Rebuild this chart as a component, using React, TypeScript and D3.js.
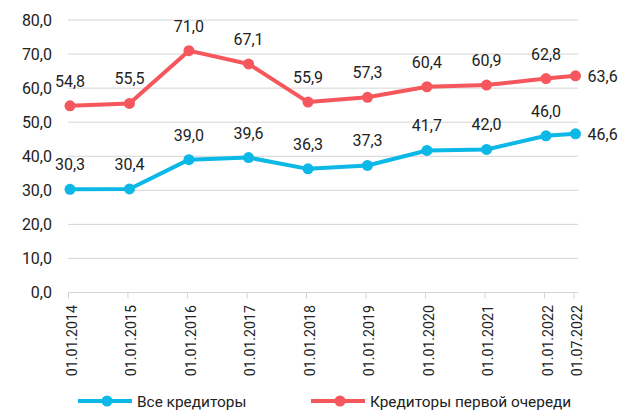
import React from 'react';
import * as d3 from 'd3';

const dates = ['01.01.2014', '01.01.2015', '01.01.2016', '01.01.2017', '01.01.2018', '01.01.2019', '01.01.2020', '01.01.2021', '01.01.2022', '01.07.2022'];
const allCreditors = [30.3, 30.4, 39.0, 39.6, 36.3, 37.3, 41.7, 42.0, 46.0, 46.6];
const firstPriority = [54.8, 55.5, 71.0, 67.1, 55.9, 57.3, 60.4, 60.9, 62.8, 63.6];
const yTicks = [0, 10, 20, 30, 40, 50, 60, 70, 80];
const seriesNames = ['Все кредиторы', 'Кредиторы первой очереди'];

const BLUE = '#0BB8E6';
const RED = '#F5575C';
const FONT = 'Roboto, sans-serif';
const TEXT = '#222';

const parseDate = (s: string) => {
  const [d, m, y] = s.split('.').map(Number);
  return new Date(y, m - 1, d);
};

export default function App() {
  const width = 633;
  const height = 412;

  const x = d3.scaleTime()
    .domain([parseDate(dates[0]), parseDate(dates[dates.length - 1])])
    .range([70, 575.5]);
  const y = d3.scaleLinear().domain([0, 80]).range([292.5, 20]);

  const fmt = (v: number) => v.toFixed(1).replace('.', ',');

  const line = d3.line<number>()
    .x((_, i) => x(parseDate(dates[i])))
    .y(d => y(d));

  const series = [
    { name: seriesNames[0], values: allCreditors, color: BLUE },
    { name: seriesNames[1], values: firstPriority, color: RED },
  ];

  const last = dates.length - 1;

  return (
    <svg width={width} height={height} style={{ position: 'absolute', left: 0, top: 0 }} fontFamily={FONT}>
      {yTicks.map(t => (
        <g key={t}>
          <line x1={68} x2={578} y1={y(t)} y2={y(t)} stroke="#d4d4d4" strokeWidth={1} />
          <text x={52} y={y(t)} dy="0.36em" textAnchor="end" fontSize={16} fill={TEXT}>{fmt(t)}</text>
        </g>
      ))}
      {dates.map(d => {
        const px = x(parseDate(d));
        return (
          <g key={d}>
            <line x1={px - 1.5} x2={px - 1.5} y1={y(0)} y2={y(0) + 6} stroke="#d4d4d4" strokeWidth={1} />
            <text transform={`translate(${px + 1.5},305) rotate(-90)`} dy="0.36em" textAnchor="end" fontSize={14.2} fill={TEXT}>{d}</text>
          </g>
        );
      })}
      {series.map(s => (
        <g key={s.name}>
          <path d={line(s.values) || ''} fill="none" stroke={s.color} strokeWidth={4} strokeLinejoin="round" />
          {s.values.map((v, i) => (
            <circle key={i} cx={x(parseDate(dates[i]))} cy={y(v)} r={5.5} fill={s.color} />
          ))}
          {s.values.map((v, i) => i === last ? (
            <text key={'l' + i} x={x(parseDate(dates[i])) + 12} y={y(v)} dy="0.36em" fontSize={16} fill={TEXT}>{fmt(v)}</text>
          ) : (
            <text key={'l' + i} x={x(parseDate(dates[i]))} y={y(v) - 19} textAnchor="middle" fontSize={16} fill={TEXT}>{fmt(v)}</text>
          ))}
        </g>
      ))}
      {series.map((s, i) => {
        const lx = i === 0 ? 78 : 311;
        return (
          <g key={'leg' + s.name} transform={`translate(${lx},401)`}>
            <line x1={0} x2={54} y1={0} y2={0} stroke={s.color} strokeWidth={4} />
            <circle cx={29} cy={0} r={5.5} fill={s.color} />
            <text x={59} y={0} dy="0.36em" fontSize={15.4} fill={TEXT}>{s.name}</text>
          </g>
        );
      })}
    </svg>
  );
}
